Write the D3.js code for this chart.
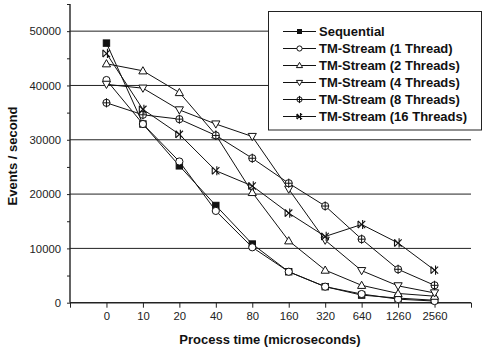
<!DOCTYPE html>
<html><head><meta charset="utf-8">
<script src="https://cdn.jsdelivr.net/npm/d3@7"></script>
<style>body{margin:0;background:#fff}svg{display:block;font-family:"Liberation Sans",Arial,sans-serif}</style>
</head><body><svg id="c" width="484" height="352"></svg>
<script>
const categories = ["0","10","20","40","80","160","320","640","1260","2560"];
const sequential = [47800,32900,25200,17900,10800,5700,2950,1400,850,450];
const thread1 = [41000,32900,26000,16900,10200,5700,2950,1600,650,300];
const thread2 = [44000,42700,38700,30900,20300,11400,6000,3200,1700,1200];
const thread4 = [40200,39500,35500,32900,30600,20900,11500,5900,3100,1800];
const thread8 = [36800,34600,33800,30800,26600,22000,17800,11700,6150,3200];
const thread16 = [45900,35600,31000,24300,21500,16500,12200,14400,11000,6000];
const seriesNames = ["Sequential","TM-Stream (1 Thread)","TM-Stream (2 Threads)","TM-Stream (4 Threads)","TM-Stream (8 Threads)","TM-Stream (16 Threads)"];
const seriesData = [sequential,thread1,thread2,thread4,thread8,thread16];
const symbols = ["square","circle","up","down","cross","x"];
const yTicks = [0,10000,20000,30000,40000,50000];

const svg = d3.select("#c");
const x = d3.scaleLinear().domain([-1,10]).range([70,471]);
const y = d3.scaleLinear().domain([0,55000]).range([302.7,4]);

// gridlines
svg.append("g").selectAll("line").data(yTicks.slice(1)).join("line")
  .attr("x1",70).attr("x2",471).attr("y1",d=>y(d)).attr("y2",d=>y(d))
  .attr("stroke","#222").attr("stroke-width",1);

// y axis
const ya = svg.append("g").attr("transform","translate(70,0)")
  .call(d3.axisLeft(y).tickValues(d3.range(0,55001,5000)).tickSize(3)
    .tickFormat(d=>d%10000===0?d:""));
ya.select(".domain").attr("stroke","#222").attr("stroke-width",1.4).attr("d","M0,"+y(55000)+"V"+y(0));
ya.selectAll(".tick line").attr("stroke","#222");
ya.selectAll("text").attr("font-size",11.3).attr("fill","#222").attr("x",-9)
  .attr("font-family","Liberation Sans, Arial, sans-serif");

// x axis
const xa = svg.append("g").attr("transform","translate(0,"+y(0)+")")
  .call(d3.axisBottom(x).tickValues(d3.range(-1,11)).tickSize(5)
    .tickFormat(i=>(i>=0&&i<categories.length)?categories[i]:""));
xa.select(".domain").attr("stroke","#222").attr("stroke-width",1.4).attr("d","M70,0H471");
xa.selectAll(".tick line").attr("stroke","#222");
xa.selectAll("text").attr("font-size",11.3).attr("fill","#222").attr("y",9)
  .attr("font-family","Liberation Sans, Arial, sans-serif");

// lines
const line = d3.line().x((d,i)=>x(i)).y(d=>y(d));
const plot = svg.append("g");
seriesData.forEach(s=>{
  plot.append("path").attr("d",line(s)).attr("fill","none").attr("stroke","#111").attr("stroke-width",1);
});

function drawSym(g,type,cx,cy,r){
  const st = {stroke:"#111","stroke-width":1,fill:"#fff"};
  let el;
  if(type==="square"){
    g.append("rect").attr("x",cx-3.2).attr("y",cy-3.2).attr("width",6.4).attr("height",6.4).attr("fill","#111").attr("stroke","#111");
    return;
  }
  if(type==="circle"){el=g.append("circle").attr("cx",cx).attr("cy",cy).attr("r",r);}
  else if(type==="up"){el=g.append("path").attr("d",`M${cx},${cy-r-0.5}L${cx+r+0.5},${cy+r-0.5}L${cx-r-0.5},${cy+r-0.5}Z`);}
  else if(type==="down"){el=g.append("path").attr("d",`M${cx},${cy+r+0.5}L${cx+r+0.5},${cy-r+0.5}L${cx-r-0.5},${cy-r+0.5}Z`);}
  else if(type==="cross"){
    el=g.append("circle").attr("cx",cx).attr("cy",cy).attr("r",r);
    Object.entries(st).forEach(([k,v])=>el.attr(k,v));
    g.append("path").attr("d",`M${cx-r},${cy}H${cx+r}M${cx},${cy-r-1}V${cy+r+1}`).attr("stroke","#111").attr("fill","none");
    return;
  }
  else if(type==="x"){
    g.append("path").attr("d",`M${cx-r},${cy-r}L${cx+r},${cy+r}M${cx-r},${cy+r}L${cx+r},${cy-r}M${cx-r},${cy-r}V${cy+r}M${cx+1},${cy-r-1}V${cy+r+1}`)
      .attr("stroke","#111").attr("stroke-width",1.1).attr("fill","none");
    return;
  }
  Object.entries(st).forEach(([k,v])=>el.attr(k,v));
}
seriesData.forEach((s,si)=>{
  s.forEach((v,i)=>drawSym(plot,symbols[si],x(i),y(v),3.6));
});

// legend
const lg = svg.append("g");
lg.append("rect").attr("x",268.5).attr("y",11.5).attr("width",213).attr("height",118.5)
  .attr("fill","#fff").attr("stroke","#222").attr("stroke-width",1);
seriesNames.forEach((n,i)=>{
  const yy = 31.5 + i*17;
  lg.append("line").attr("x1",283).attr("x2",316).attr("y1",yy).attr("y2",yy).attr("stroke","#111");
  const g = lg.append("g");
  if(symbols[i]==="square"){
    g.append("rect").attr("x",297).attr("y",yy-2.5).attr("width",5).attr("height",5).attr("fill","#111");
  } else drawSym(g,symbols[i],299.5,yy,2.6);
  lg.append("text").attr("x",319).attr("y",yy+4.6).attr("font-size",13).attr("font-weight","bold")
    .attr("fill","#111").text(n);
});

// axis titles
svg.append("text").attr("x",270).attr("y",344).attr("text-anchor","middle")
  .attr("font-size",13).attr("font-weight","bold").attr("fill","#111").text("Process time (microseconds)");
svg.append("text").attr("transform","translate(17,156) rotate(-90)").attr("text-anchor","middle")
  .attr("font-size",13).attr("font-weight","bold").attr("fill","#111").text("Events / second");
</script></body></html>
